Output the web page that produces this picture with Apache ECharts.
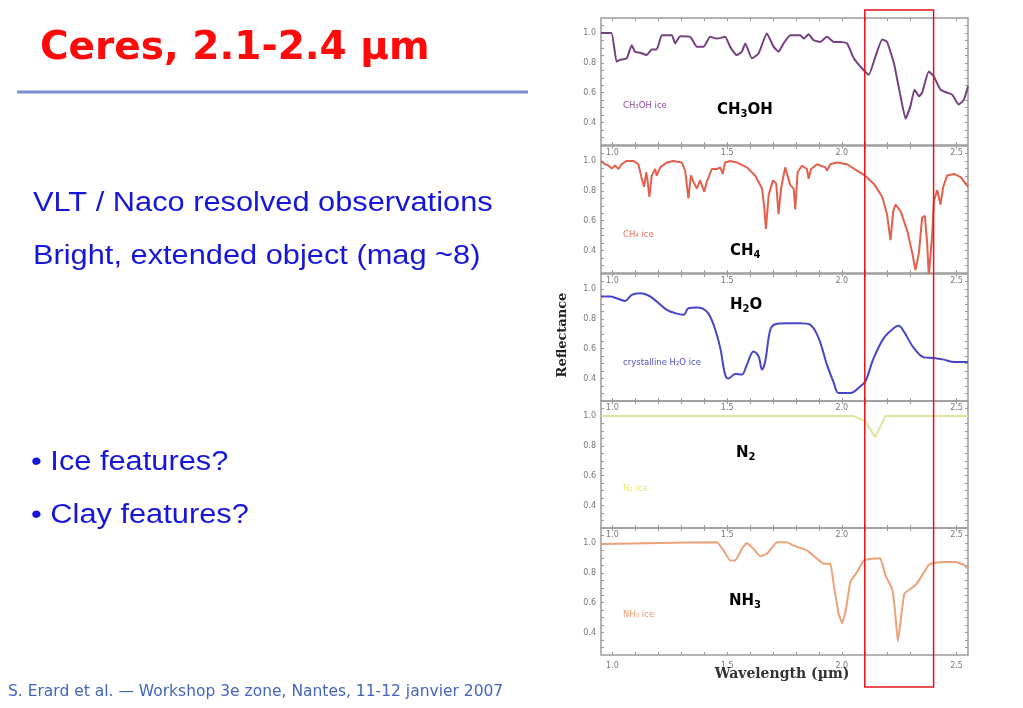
<!DOCTYPE html>
<html>
<head>
<meta charset="utf-8">
<script src="https://cdn.jsdelivr.net/npm/echarts@6/dist/echarts.min.js"></script>
<style>html,body{margin:0;padding:0;background:#fff}#c{width:1023px;height:708px}</style>
</head>
<body>
<div id="c"></div>
<script>
// ---- data ----
const xTickLabels = [1.0, 1.5, 2.0, 2.5];
const xMinorTicks = [1.0,1.1,1.2,1.3,1.4,1.5,1.6,1.7,1.8,1.9,2.0,2.1,2.2,2.3,2.4,2.5];
const yTickLabels = [0.4, 0.6, 0.8, 1.0];
const yMinorTicks = [0.3,0.35,0.4,0.45,0.5,0.55,0.6,0.65,0.7,0.75,0.8,0.85,0.9,0.95,1.0,1.05];
const boxRange = [2.1, 2.4];

const ch3ohWl = [0.95,0.995,1.018,1.033,1.062,1.084,1.098,1.12,1.149,1.171,1.193,1.215,1.237,1.259,1.273,1.295,1.339,1.368,1.397,1.426,1.455,1.491,1.513,1.542,1.564,1.579,1.608,1.637,1.673,1.703,1.724,1.746,1.775,1.819,1.834,1.855,1.877,1.906,1.935,1.965,1.994,2.023,2.052,2.081,2.117,2.146,2.176,2.197,2.227,2.256,2.278,2.299,2.317,2.336,2.35,2.379,2.401,2.43,2.459,2.481,2.51,2.532,2.55];
const ch3ohR  = [1.0,1.0,0.808,0.82,0.83,0.918,0.874,0.868,0.852,0.89,0.89,0.985,0.985,0.985,0.93,0.978,0.974,0.907,0.907,0.974,0.962,0.974,0.907,0.852,0.874,0.93,0.83,0.863,0.996,0.907,0.874,0.93,0.985,0.985,0.962,0.991,0.951,0.94,0.974,0.94,0.94,0.93,0.83,0.775,0.72,0.84,0.956,0.94,0.797,0.576,0.426,0.51,0.62,0.576,0.6,0.742,0.709,0.62,0.6,0.587,0.521,0.554,0.643];

const ch4Wl = [0.95,0.967,0.982,0.997,1.011,1.026,1.04,1.062,1.091,1.113,1.128,1.138,1.147,1.152,1.161,1.171,1.186,1.193,1.208,1.237,1.266,1.302,1.317,1.331,1.342,1.353,1.368,1.382,1.4,1.411,1.433,1.455,1.47,1.481,1.491,1.513,1.542,1.586,1.622,1.652,1.662,1.669,1.681,1.7,1.714,1.724,1.735,1.753,1.775,1.79,1.797,1.807,1.826,1.848,1.855,1.866,1.892,1.928,1.935,1.95,1.979,2.023,2.066,2.1,2.139,2.176,2.197,2.212,2.224,2.234,2.256,2.285,2.307,2.321,2.336,2.35,2.362,2.372,2.379,2.394,2.401,2.416,2.43,2.442,2.459,2.489,2.518,2.55];
const ch4R  = [1.0,0.978,0.97,0.95,0.97,0.946,0.978,1.0,1.0,0.978,0.88,0.827,0.924,0.88,0.76,0.9,0.946,0.9,0.957,0.99,1.0,0.99,0.935,0.75,0.903,0.86,0.816,0.87,0.794,0.86,0.946,0.946,0.957,0.913,0.99,1.0,0.99,0.957,0.903,0.816,0.686,0.545,0.773,0.87,0.848,0.643,0.816,0.957,0.838,0.816,0.675,0.924,0.968,0.946,0.88,0.946,0.978,0.957,0.935,0.978,0.99,0.978,0.935,0.903,0.848,0.76,0.643,0.47,0.664,0.708,0.664,0.534,0.383,0.27,0.383,0.621,0.632,0.448,0.23,0.51,0.73,0.805,0.708,0.827,0.903,0.913,0.892,0.827];

const h2oWl = [0.95,0.989,1.026,1.055,1.084,1.12,1.157,1.193,1.237,1.273,1.31,1.331,1.368,1.411,1.441,1.47,1.491,1.506,1.535,1.564,1.586,1.615,1.637,1.652,1.666,1.688,1.71,1.761,1.819,1.863,1.899,1.935,1.965,1.986,2.037,2.081,2.103,2.139,2.183,2.227,2.248,2.27,2.314,2.358,2.401,2.445,2.489,2.55];
const h2oR  = [0.949,0.949,0.933,0.92,0.96,0.971,0.956,0.916,0.86,0.838,0.827,0.871,0.876,0.849,0.76,0.604,0.427,0.4,0.431,0.427,0.493,0.582,0.549,0.46,0.516,0.727,0.764,0.771,0.771,0.76,0.671,0.493,0.371,0.304,0.304,0.349,0.382,0.538,0.671,0.738,0.753,0.716,0.604,0.542,0.538,0.527,0.511,0.511];

const n2Wl = [0.95,2.05,2.1,2.146,2.19,2.55];
const n2R  = [1.0,1.0,0.967,0.858,1.0,1.0];

const nh3Wl = [0.95,1.208,1.455,1.484,1.513,1.535,1.564,1.586,1.615,1.644,1.673,1.717,1.761,1.79,1.848,1.892,1.921,1.95,1.965,1.986,2.001,2.016,2.037,2.066,2.096,2.132,2.168,2.19,2.219,2.231,2.244,2.256,2.273,2.321,2.35,2.379,2.408,2.445,2.496,2.532,2.55];
const nh3R  = [0.993,1.0,1.005,0.95,0.883,0.883,0.96,1.0,0.96,0.911,0.927,1.004,1.005,0.982,0.95,0.894,0.861,0.861,0.717,0.528,0.462,0.539,0.739,0.805,0.883,0.894,0.898,0.783,0.694,0.562,0.34,0.473,0.661,0.717,0.783,0.854,0.867,0.872,0.872,0.854,0.827];

const panels = [
  {wl: ch3ohWl, r: ch3ohR, color: '#74407f', smooth: 0.15},
  {wl: ch4Wl,   r: ch4R,   color: '#e2604c', smooth: false},
  {wl: h2oWl,   r: h2oR,   color: '#4646c6', smooth: 0.35},
  {wl: n2Wl,    r: n2R,    color: '#e0e49a', smooth: false},
  {wl: nh3Wl,   r: nh3R,   color: '#eba27a', smooth: 0.1}
];

// ---- layout ----
const tops = [18, 146, 274, 401, 528];
const chart = echarts.init(document.getElementById('c'), null, {renderer: 'canvas'});
const grid = [], xAxis = [], yAxis = [], series = [];
const tickStyle = {color: '#9a9a9a', width: 1};
const lblStyle = {fontSize: 8, color: '#777', fontFamily: 'DejaVu Sans', formatter: v => Number(v).toFixed(1)};
tops.forEach((t, i) => {
  grid.push({left: 601, right: 55, top: t, height: 127, show: true, borderColor: '#9c9c9c', borderWidth: 1.5, backgroundColor: 'transparent'});
  xAxis.push({gridIndex: i, type: 'value', min: 0.95, max: 2.55, position: 'bottom',
    axisLine: {show: false}, splitLine: {show: false},
    axisTick: {show: true, inside: true, length: 3, customValues: xMinorTicks, lineStyle: tickStyle},
    axisLabel: Object.assign({show: i === 4, customValues: xTickLabels, margin: 7}, lblStyle)});
  xAxis.push({gridIndex: i, type: 'value', min: 0.95, max: 2.55, position: 'top',
    axisLine: {show: false}, splitLine: {show: false},
    axisTick: {show: true, inside: true, length: 3, customValues: xMinorTicks, lineStyle: tickStyle},
    axisLabel: Object.assign({show: i > 0, inside: true, customValues: xTickLabels, margin: 3}, lblStyle)});
  yAxis.push({gridIndex: i, type: 'value', min: 0.25, max: 1.1, position: 'left',
    axisLine: {show: false}, splitLine: {show: false},
    axisTick: {show: true, inside: true, length: 3, customValues: yMinorTicks, lineStyle: tickStyle},
    axisLabel: Object.assign({customValues: yTickLabels, margin: 5}, lblStyle)});
  yAxis.push({gridIndex: i, type: 'value', min: 0.25, max: 1.1, position: 'right',
    axisLine: {show: false}, splitLine: {show: false},
    axisTick: {show: true, inside: true, length: 3, customValues: yMinorTicks, lineStyle: tickStyle},
    axisLabel: {show: false}});
  const p = panels[i];
  series.push({type: 'line', xAxisIndex: 2 * i, yAxisIndex: 2 * i, showSymbol: false, smooth: p.smooth, clip: true,
    data: p.wl.map((w, k) => [w, p.r[k]]),
    lineStyle: {color: p.color, width: 2}, itemStyle: {color: p.color}});
});

chart.setOption({animation: false, backgroundColor: '#ffffff', grid, xAxis, yAxis, series});

const blue = '#1616d8';
const big = (x, y, parts) => ({type: 'text', x, y, z: 50, style: {
  text: parts, textVerticalAlign: 'middle',
  rich: {a: {fontSize: 15, fontWeight: 'bold', fontFamily: 'DejaVu Sans', color: '#000', lineHeight: 18},
         s: {fontSize: 10, fontWeight: 'bold', fontFamily: 'DejaVu Sans', color: '#000', verticalAlign: 'bottom'}}}});
const small = (x, y, txt, color) => ({type: 'text', x, y, z: 50, style: {text: txt, fill: color, fontSize: 8.5, fontFamily: 'DejaVu Sans', textVerticalAlign: 'middle'}});
const body = (x, y, text) => ({type: 'text', x, y, scaleX: 1.14, z: 50, style: {text, fill: blue, fontSize: 27, fontFamily: 'Liberation Sans', textVerticalAlign: 'middle'}});

const xL = chart.convertToPixel({xAxisIndex: 0}, boxRange[0]);
const xR = chart.convertToPixel({xAxisIndex: 0}, boxRange[1]);

chart.setOption({graphic: {elements: [
  {type: 'text', x: 40, y: 49, z: 50, style: {text: 'Ceres, 2.1-2.4 µm', fontSize: 39, fontWeight: 'bold', fontFamily: 'DejaVu Sans', fill: '#ff0a0a', textVerticalAlign: 'middle'}},
  {type: 'line', shape: {x1: 17, y1: 92, x2: 528, y2: 92}, style: {stroke: '#7c8ed4', lineWidth: 3}},
  body(33, 204, 'VLT / Naco resolved observations'),
  body(33, 257, 'Bright, extended object (mag ~8)'),
  body(31, 463, '• Ice features?'),
  body(31, 516, '• Clay features?'),
  {type: 'text', x: 8, y: 692, z: 50, style: {text: 'S. Erard et al. — Workshop 3e zone, Nantes, 11-12 janvier 2007', fontSize: 15.5, fontFamily: 'DejaVu Sans', fill: '#4464c0', textVerticalAlign: 'middle'}},
  {type: 'text', x: 563, y: 335, rotation: Math.PI / 2, z: 50, style: {text: 'Reflectance', fontSize: 13, fontWeight: 'bold', fontFamily: 'DejaVu Serif', fill: '#222', textAlign: 'center', textVerticalAlign: 'middle'}},
  {type: 'text', x: 782, y: 674, z: 50, style: {text: 'Wavelength (µm)', fontSize: 14, fontWeight: 'bold', fontFamily: 'DejaVu Serif', fill: '#333', textAlign: 'center', textVerticalAlign: 'middle'}},
  small(623, 106, 'CH₃OH ice', '#8a4a9a'),
  small(623, 235, 'CH₄ ice', '#e8705c'),
  small(623, 363, 'crystalline H₂O ice', '#5050c8'),
  small(623, 489, 'N₂ ice', '#e6e67a'),
  small(623, 615, 'NH₃ ice', '#eb9a70'),
  big(717, 110, '{a|CH}{s|3}{a|OH}'),
  big(730, 251, '{a|CH}{s|4}'),
  big(730, 305, '{a|H}{s|2}{a|O}'),
  big(736, 453, '{a|N}{s|2}'),
  big(729, 601, '{a|NH}{s|3}'),
  {type: 'rect', z: 100, shape: {x: xL, y: 10, width: xR - xL, height: 677}, style: {fill: 'transparent', stroke: '#e4141c', lineWidth: 1.5}}
]}});
</script>
</body>
</html>
